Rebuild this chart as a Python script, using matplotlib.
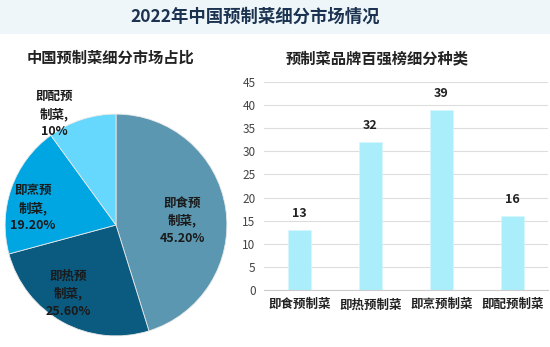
import matplotlib.pyplot as plt
from matplotlib.patches import Rectangle

plt.rcParams['font.family'] = ['Noto Sans CJK SC', 'DejaVu Sans']

# pie: market share by segment
pie_labels = ['即食预\n制菜,\n45.20%', '即热预\n制菜,\n25.60%', '即烹预\n制菜,\n19.20%', '即配预\n制菜,\n10%']
pie_values = [45.2, 25.6, 19.2, 10.0]
pie_colors = ['#5b97b0', '#0b5a80', '#00a6e2', '#66d8fd']

# bar: counts in top-100 brand list
bar_cats = ['即食预制菜', '即热预制菜', '即烹预制菜', '即配预制菜']
bar_values = [13, 32, 39, 16]

fig = plt.figure(figsize=(5.5, 3.47), dpi=100)
fig.patch.set_facecolor('white')

# title band
fig.patches.append(Rectangle((0, 1 - 34 / 347), 1, 34 / 347, transform=fig.transFigure,
                             facecolor='#eef6fa', edgecolor='none', zorder=0))
fig.text(255 / 550, 1 - 17 / 347, '2022年中国预制菜细分市场情况', ha='center', va='center',
         fontsize=12.5, color='#1b3350', fontweight='bold')

fig.text(110 / 550, 1 - 58 / 347, '中国预制菜细分市场占比', ha='center', va='center',
         fontsize=11, color='#222222', fontweight='bold')
fig.text(377 / 550, 1 - 58 / 347, '预制菜品牌百强榜细分种类', ha='center', va='center',
         fontsize=11, color='#222222', fontweight='bold')

# pie chart
ax1 = fig.add_axes([4 / 550, 1 - 337 / 347, 224 / 550, 224 / 347])
wedges, texts = ax1.pie(pie_values, colors=pie_colors, startangle=90, counterclock=False,
                        wedgeprops=dict(edgecolor='#e8e8e8', linewidth=0.6))
ax1.set_xlim(-1.01, 1.01)
ax1.set_ylim(-1.01, 1.01)
ax1.set_aspect('equal')

label_pos = [(0.6, 0.04), (-0.43, -0.62), (-0.75, 0.15), (-0.56, 1.0)]
for (x, y), txt in zip(label_pos, pie_labels):
    ax1.text(x, y, txt, ha='center', va='center', fontsize=9, color='#1a1a1a',
             linespacing=1.4, fontweight='bold')

# bar chart
ax2 = fig.add_axes([264 / 550, 1 - 290 / 347, 284 / 550, 208 / 347])
x = range(len(bar_cats))
bars = ax2.bar(x, bar_values, width=0.31, color='#aaeefb', edgecolor='#d5f6fd', linewidth=0.5,
               zorder=2)
for xi, v in zip(x, bar_values):
    ax2.text(xi, v + 2.2, str(v), ha='center', va='bottom', fontsize=9,
             color='#222222', fontweight='bold')

ax2.set_ylim(0, 45)
ax2.set_yticks(range(0, 46, 5))
ax2.set_xlim(-0.5, 3.5)
ax2.set_xticks(list(x))
ax2.set_xticklabels(bar_cats, fontsize=9, fontweight='bold', color='#222222')
ax2.tick_params(axis='y', labelsize=8.5, colors='#444444', length=0, pad=6)
ax2.tick_params(axis='x', length=0, pad=6)
ax2.grid(axis='y', color='#dddddd', linewidth=0.8, zorder=0)
for s in ['top', 'right', 'left']:
    ax2.spines[s].set_visible(False)
ax2.spines['bottom'].set_color('#cccccc')

fig.savefig('out.png', dpi=100)
